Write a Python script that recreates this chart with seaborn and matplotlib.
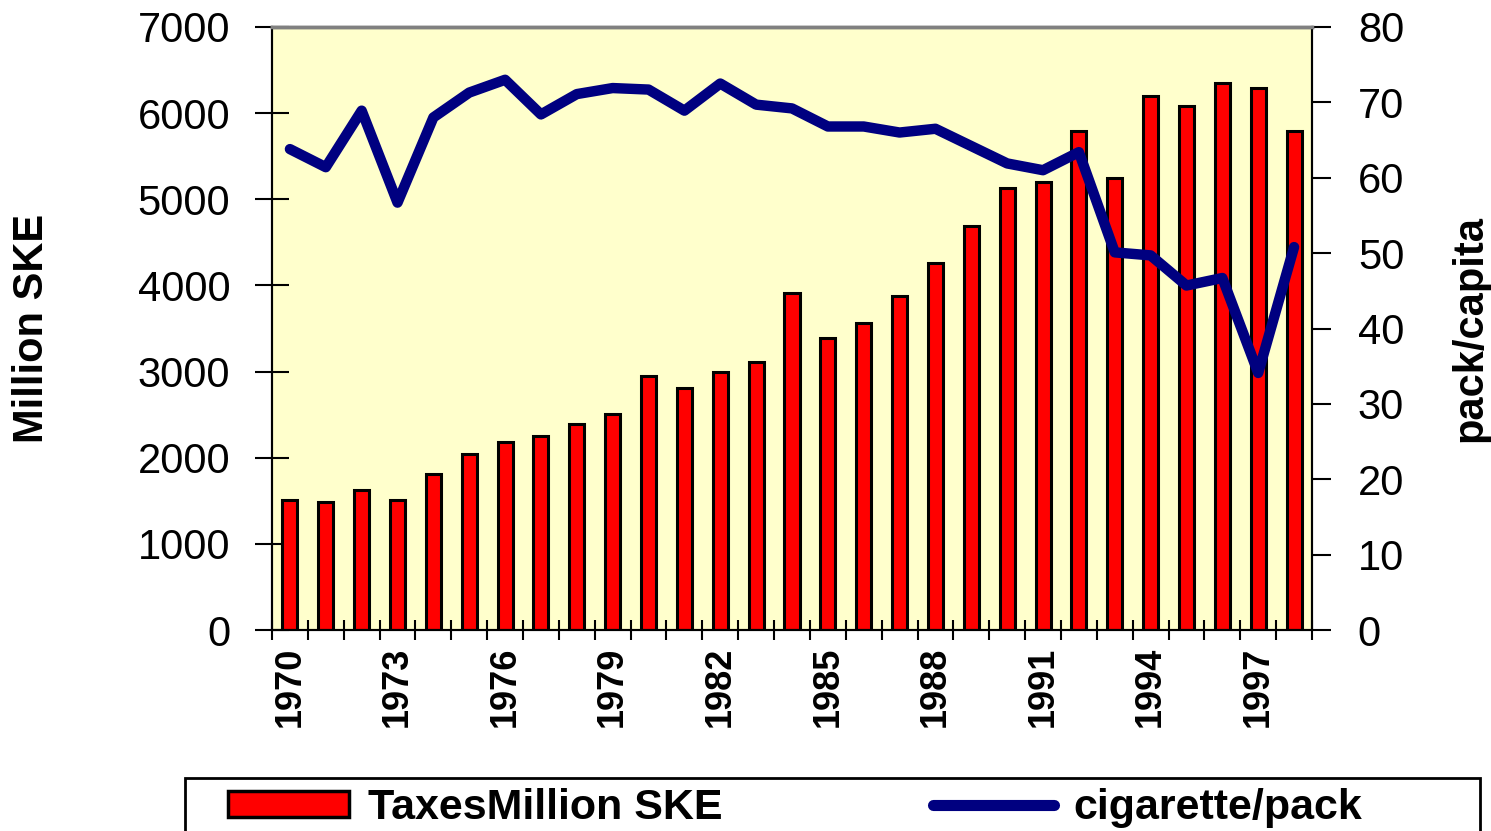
import numpy as np
import pandas as pd
import matplotlib
matplotlib.use('Agg')
import matplotlib.pyplot as plt
import seaborn as sns
from matplotlib.patches import Patch, Rectangle
from matplotlib.lines import Line2D

sns.set_style('ticks')
plt.rcParams['font.family'] = ['Liberation Sans', 'DejaVu Sans']
plt.rcParams['text.color'] = 'black'
plt.rcParams['xtick.color'] = 'black'
plt.rcParams['ytick.color'] = 'black'
plt.rcParams['axes.labelcolor'] = 'black'

# 数据
years = list(range(1970, 1999))
taxes = [1510, 1487, 1626, 1510, 1812, 2044, 2183, 2253, 2393, 2509,
         2950, 2811, 2997, 3113, 3908, 3391, 3560, 3879, 4256, 4692,
         5134, 5203, 5790, 5250, 6202, 6086, 6347, 6295, 5790]
packs = [63.8, 61.4, 68.9, 56.7, 68.0, 71.3, 73.0, 68.4, 71.1, 71.9,
         71.7, 68.9, 72.5, 69.7, 69.2, 66.8, 66.8, 66.0, 66.5, 64.2,
         61.9, 61.0, 63.4, 50.1, 49.7, 45.7, 46.7, 34.1, 50.8]
label_years = years[::3]

df = pd.DataFrame({'Year': [str(y) for y in years], 'Taxes': taxes, 'Packs': packs})
df = df.reset_index()

fig = plt.figure(figsize=(14.91, 8.31), dpi=100)
ax = fig.add_axes([272/1491, 1-630/831, 1040/1491, 603/831])
ax.set_facecolor('#FFFFCC')

sns.barplot(data=df, x='Year', y='Taxes', color='#FF0000', saturation=1,
            width=0.42, edgecolor='black', linewidth=2.2, ax=ax)

ax2 = ax.twinx()
sns.lineplot(data=df, x='index', y='Packs', color='#000080', linewidth=7.5,
             solid_joinstyle='round', solid_capstyle='round', ax=ax2)

# x轴
ax.set_xlim(-0.5, len(years) - 0.5)
ax.set_xticks(np.arange(-0.5, len(years)), labels=[])
ax.set_xticks([years.index(y) for y in label_years], labels=[str(y) for y in label_years],
              minor=True, fontweight='bold')
ax.tick_params(axis='x', which='major', direction='inout', length=14, width=1.5, color='black')
ax.tick_params(axis='x', which='minor', length=0, pad=12, labelsize=26, labelrotation=90)
ax.set_xlabel('')

# 左y轴
ax.set_ylim(0, 7000)
ax.set_yticks(range(0, 7001, 1000))
ax.tick_params(axis='y', direction='inout', length=24, width=1.5, labelsize=30, pad=18)
ax.set_ylabel('')

# 右y轴
ax2.set_ylim(0, 80)
ax2.set_yticks(range(0, 81, 10))
ax2.tick_params(axis='y', direction='out', length=14, width=1.5, labelsize=30, pad=19)
ax2.set_ylabel('')
ax2.set_xlabel('')

for a in (ax, ax2):
    for s in ('left', 'right', 'bottom'):
        a.spines[s].set_color('black')
        a.spines[s].set_linewidth(1.5)
    a.spines['top'].set_color('#808080')
    a.spines['top'].set_linewidth(2.5)

fig.text(32/1491, 1-328/831, 'Million SKE', rotation=90, ha='center', va='center',
         fontsize=30, fontweight='bold')
fig.text(1470/1491, 1-328/831, 'pack/capita', rotation=90, ha='center', va='center',
         fontsize=30, fontweight='bold')

# 图例
handles = [Patch(facecolor='#FF0000', edgecolor='black', linewidth=2.5),
           Line2D([], [], color='#000080', linewidth=8, solid_capstyle='round')]
leg = fig.legend(handles, ['TaxesMillion SKE', 'cigarette/pack'], loc='upper left',
                 bbox_to_anchor=(228/1491, 1-788/831), ncol=2, frameon=False,
                 prop={'weight': 'bold', 'size': 31}, handlelength=2.8, handleheight=0.56,
                 handletextpad=0.45, columnspacing=4.9, borderpad=0, borderaxespad=0)
fig.add_artist(Rectangle((185/1491, -0.1), 1295/1491, 0.1 + 1-778/831,
                         transform=fig.transFigure, fill=False, edgecolor='black', linewidth=2))

fig.savefig('out.png', dpi=100)
